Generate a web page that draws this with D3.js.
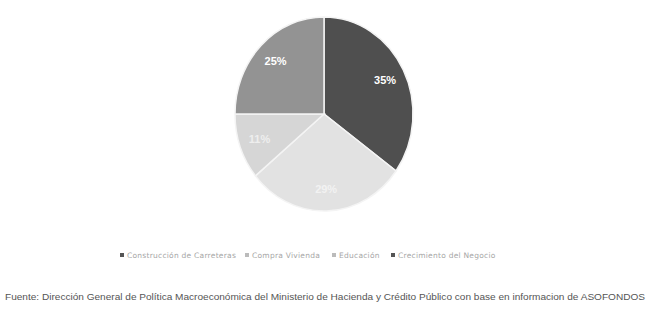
<!DOCTYPE html>
<html>
<head>
<meta charset="utf-8">
<script src="https://cdn.jsdelivr.net/npm/d3@7"></script>
<style>
  body { margin: 0; background: #fff; }
  svg { display: block; }
</style>
</head>
<body>
<svg id="chart" width="649" height="311"></svg>
<script>
// data
const categories = ["Construcción de Carreteras", "Compra Vivienda", "Educación", "Crecimiento del Negocio"];
const values = [35, 29, 11, 25];
const colours = ["#4f4f4f", "#e2e2e2", "#d6d6d6", "#939393"];
const labelColours = ["#ffffff", "#f2f2f2", "#eeeeee", "#ffffff"];
const source = "Fuente: Dirección General de Política Macroeconómica del Ministerio de Hacienda y Crédito Público con base en informacion de ASOFONDOS";

const svg = d3.select("#chart"),
  cx = 324,
  cy = 114,
  radius = 89,
  stretchY = 1.09; // scanned page: the pie is slightly taller than wide

const pie = d3.pie().sort(null).value(d => d.value);
const arc = d3.arc().innerRadius(0).outerRadius(radius);
const labelArc = d3.arc().innerRadius(radius * 0.77).outerRadius(radius * 0.77);

const slices = pie(categories.map((c, i) => ({ name: c, value: values[i], i: i })));

const g = svg.append("g").attr("transform", `translate(${cx},${cy})`);
const wedges = g.append("g").attr("transform", `scale(1,${stretchY})`);

wedges.selectAll("path")
  .data(slices)
  .enter()
  .append("path")
  .attr("d", arc)
  .attr("fill", d => colours[d.data.i])
  .attr("stroke", "#f4f4f4")
  .attr("stroke-width", 1.5)
  .style("vector-effect", "non-scaling-stroke");

g.selectAll("text")
  .data(slices)
  .enter()
  .append("text")
  .attr("transform", d => {
    const c = labelArc.centroid(d);
    return `translate(${c[0]},${c[1] * stretchY})`;
  })
  .attr("text-anchor", "middle")
  .attr("dy", "0.35em")
  .attr("font-family", "Liberation Sans, Arial, sans-serif")
  .attr("font-weight", "bold")
  .attr("font-size", 11)
  .attr("fill", d => labelColours[d.data.i])
  .text(d => d.data.value + "%");

// legend
const legendX = [120, 245, 332, 391];
const legend = svg.append("g").attr("transform", "translate(0,258)");
const entry = legend.selectAll("g")
  .data(categories)
  .enter()
  .append("g")
  .attr("transform", (d, i) => `translate(${legendX[i]},0)`);

entry.append("rect")
  .attr("x", 0)
  .attr("y", -5)
  .attr("width", 4)
  .attr("height", 4)
  .attr("fill", (d, i) => (i === 0 || i === 3) ? "#555" : "#bbb");

entry.append("text")
  .attr("x", 7)
  .attr("y", 0)
  .attr("font-family", "DejaVu Sans, sans-serif")
  .attr("font-size", 7.5)
  .attr("letter-spacing", 0.25)
  .attr("fill", "#a6a6a6")
  .text(d => d);

// source note
svg.append("text")
  .attr("x", 5)
  .attr("y", 300)
  .attr("font-family", "Liberation Sans Narrow, Liberation Sans, Arial, sans-serif")
  .attr("font-size", 9.5)
  .attr("fill", "#555")
  .attr("textLength", 640)
  .attr("lengthAdjust", "spacingAndGlyphs")
  .text(source);
</script>
</body>
</html>
